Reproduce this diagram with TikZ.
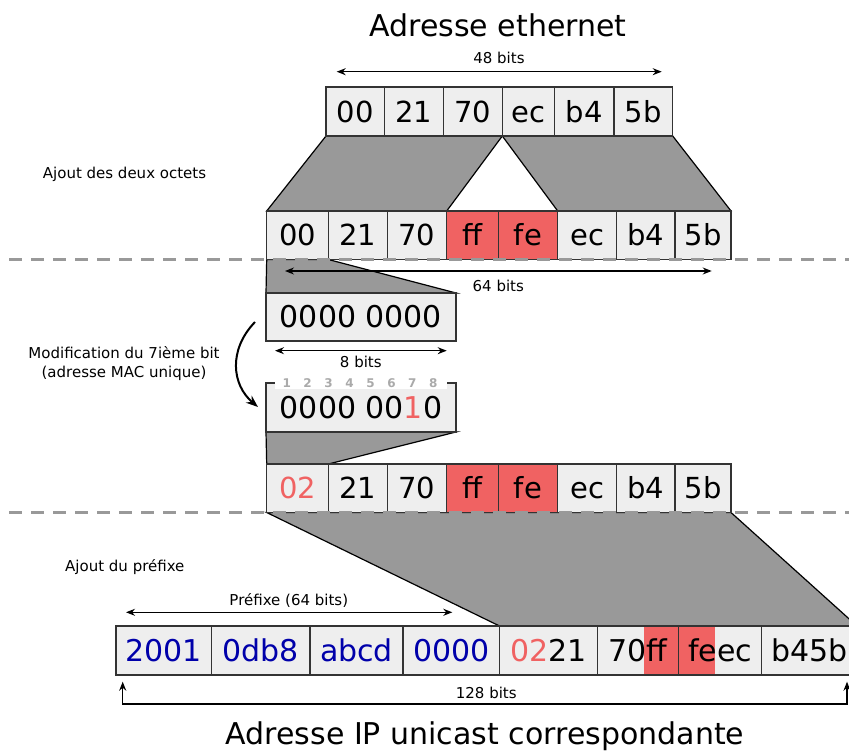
\documentclass[tikz,border=0pt]{standalone}
\usepackage{fontspec}
\setmainfont{DejaVu Sans}
\usetikzlibrary{arrows.meta,backgrounds}
\definecolor{cellgray}{HTML}{EEEEEE}
\definecolor{trapgray}{HTML}{999999}
\definecolor{redfill}{HTML}{F06262}
\definecolor{redtext}{HTML}{F06262}
\definecolor{bluetext}{HTML}{0000AA}
\definecolor{dashgray}{HTML}{999999}
\definecolor{bitgray}{HTML}{AAAAAA}
\definecolor{cellborder}{HTML}{333333}
\tikzset{
  cell/.style={draw=cellborder, fill=cellgray, line width=1.2pt, inner sep=0pt, outer sep=0pt,
    text height=21.2pt, text depth=0pt, font=\fontsize{29}{34}\selectfont},
  redcell/.style={cell, fill=redfill},
  bytecell/.style={cell, text height=21.9pt, font=\fontsize{30}{36}\selectfont},
  ipcell/.style={cell, text height=21.9pt, font=\fontsize{30}{36}\selectfont},
  bluecell/.style={ipcell, text=bluetext},
  trap/.style={fill=trapgray, draw=black, line width=1.2pt, line join=miter},
  dimarrow/.style={{Stealth[length=9pt,width=7pt]}-{Stealth[length=9pt,width=7pt]}, line width=1.3pt},
  curvearrow/.style={-{Stealth[length=12pt,width=9pt]}, line width=2pt},
  lbl/.style={font=\fontsize{15}{18}\selectfont, inner sep=0pt},
  bigtitle/.style={font=\fontsize{30}{36}\selectfont, inner sep=0pt},
  bitnum/.style={font=\fontsize{12}{14}\selectfont\bfseries, text=bitgray, inner sep=0pt},
  sepline/.style={draw=dashgray, line width=3pt, dash pattern=on 13pt off 9pt},
}
\newcommand\mkcell[7]{\node[#1, minimum width={#4-#3}, minimum height={#6-#5}] (#2) at ({(#3+#4)/2},{(#5+#6)/2}) {#7};}
\begin{document}
\begin{tikzpicture}[x=1pt,y=-1pt]
\useasboundingbox (0,0) rectangle (849,751);

% titles
\node[bigtitle, anchor=base] (title1) at (498,36.5) {Adresse ethernet};
\node[bigtitle, anchor=base] (title2) at (485,744.5) {Adresse IP unicast correspondante};

% row 1: ethernet address
\mkcell{cell}{r1a}{326}{384.3}{87}{136}{00}
\mkcell{cell}{r1b}{384.3}{443.5}{87}{136}{21}
\mkcell{cell}{r1c}{443.5}{502.3}{87}{136}{70}
\mkcell{cell}{r1d}{502.3}{554.5}{87}{136}{ec}
\mkcell{cell}{r1e}{554.5}{614}{87}{136}{b4}
\mkcell{cell}{r1f}{614}{672.7}{87}{136}{5b}

% row 2
\mkcell{cell}{r2a}{266.7}{328.3}{211}{259.5}{00}
\mkcell{cell}{r2b}{328.3}{387.3}{211}{259.5}{21}
\mkcell{cell}{r2c}{387.3}{446.7}{211}{259.5}{70}
\mkcell{redcell}{r2d}{446.7}{498.3}{211}{259.5}{ff}
\mkcell{redcell}{r2e}{498.3}{557.7}{211}{259.5}{fe}
\mkcell{cell}{r2f}{557.7}{616.7}{211}{259.5}{ec}
\mkcell{cell}{r2g}{616.7}{675}{211}{259.5}{b4}
\mkcell{cell}{r2h}{675}{731}{211}{259.5}{5b}

% byte boxes
\mkcell{bytecell}{bA}{266}{456}{293}{341}{0000 0000}
\mkcell{bytecell}{bB}{266}{456}{383}{432}{0000 00{\color{redtext}1}0}
\fill[white] (275,377.5) rectangle (447,388.5);
\foreach \i in {1,...,8}{
  \node[bitnum] (n\i) at ({286.7+(\i-1)*20.95},383) {\i};
}

% row 3
\mkcell{cell}{r3a}{266.7}{328.3}{464}{512.5}{{\color{redtext}02}}
\mkcell{cell}{r3b}{328.3}{387.3}{464}{512.5}{21}
\mkcell{cell}{r3c}{387.3}{446.7}{464}{512.5}{70}
\mkcell{redcell}{r3d}{446.7}{498.3}{464}{512.5}{ff}
\mkcell{redcell}{r3e}{498.3}{557.7}{464}{512.5}{fe}
\mkcell{cell}{r3f}{557.7}{616.7}{464}{512.5}{ec}
\mkcell{cell}{r3g}{616.7}{675}{464}{512.5}{b4}
\mkcell{cell}{r3h}{675}{731}{464}{512.5}{5b}

% IPv6 row
\mkcell{bluecell}{ip1}{116}{211.5}{626}{675}{2001}
\mkcell{bluecell}{ip2}{211.5}{310}{626}{675}{0db8}
\mkcell{bluecell}{ip3}{310}{403}{626}{675}{abcd}
\mkcell{bluecell}{ip4}{403}{499.5}{626}{675}{0000}
\mkcell{ipcell}{ip5}{499.5}{597.3}{626}{675}{{\color{redtext}02}21}
\mkcell{ipcell, path picture={\fill[redfill] ([xshift=-34pt]path picture bounding box.south east) rectangle (path picture bounding box.north east);}}{ip6}{597.3}{678.3}{626}{675}{70ff}
\mkcell{ipcell, path picture={\fill[redfill] (path picture bounding box.south west) rectangle ([xshift=36.7pt]path picture bounding box.north west);}}{ip7}{678.3}{761.7}{626}{675}{feec}
\mkcell{ipcell}{ip8}{761.7}{857}{626}{675}{b45b}

% gray trapezoids
\begin{scope}[on background layer]
  \draw[trap] (r1a.south west) -- (r1c.south east) -- (r2c.north east) -- (r2a.north west) -- cycle;
  \draw[trap] (r1d.south west) -- (r1f.south east) -- (r2h.north east) -- (r2f.north west) -- cycle;
  \draw[trap] (r2a.south west) -- (r2a.south east) -- (bA.north east) -- (bA.north west) -- cycle;
  \draw[trap] (bB.south west) -- (bB.south east) -- (r3a.north east) -- (r3a.north west) -- cycle;
  \draw[trap] (r3a.south west) -- (r3h.south east) -- (ip8.north east) -- (ip5.north west) -- cycle;
\end{scope}

% dimension arrows
\coordinate (a48l) at (336.7,71.7); \coordinate (a48r) at (661.7,71.7);
\draw[dimarrow] (a48l) -- (a48r);
\node[lbl, anchor=base] (l48) at (499,63.3) {48 bits};

\coordinate (a64l) at (285,271); \coordinate (a64r) at (711.7,271);
\draw[dimarrow] (a64l) -- (a64r);
\node[lbl, anchor=base] (l64) at (498.3,291.7) {64 bits};

\coordinate (a8l) at (275,350.7); \coordinate (a8r) at (446.7,350.7);
\draw[dimarrow] (a8l) -- (a8r);
\node[lbl, anchor=base] (l8) at (360.8,367.3) {8 bits};

\coordinate (apl) at (126,612.3); \coordinate (apr) at (452.3,612.3);
\draw[dimarrow] (apl) -- (apr);
\node[lbl, anchor=base] (lpref) at (288.8,605) {Préfixe (64 bits)};

\coordinate (a128l) at (122.7,681.7); \coordinate (a128bl) at (122.7,704);
\coordinate (a128br) at (847,704); \coordinate (a128r) at (847,681.7);
\draw[dimarrow] (a128l) -- (a128bl) -- (a128br) -- (a128r);
\node[lbl, anchor=base] (l128) at (486.3,698) {128 bits};

% left labels
\node[lbl, anchor=base west] (ajout1) at (42.7,178.3) {Ajout des deux octets};
\node[lbl, anchor=base] (mod1) at (124,358.3) {Modification du 7ième bit};
\node[lbl, anchor=base] (mod2) at (124,377.7) {(adresse MAC unique)};
\node[lbl, anchor=base west] (ajout2) at (65,571) {Ajout du préfixe};

% curved arrow
\coordinate (cvs) at (255,322); \coordinate (cve) at (258,407);
\draw[curvearrow] (cvs) .. controls (228,350) and (232,385) .. (cve);

% dashed separators
\coordinate (s1l) at (9,259.5); \coordinate (s1r) at (849,259.5);
\coordinate (s2l) at (9,512.5); \coordinate (s2r) at (849,512.5);
\draw[sepline] (s1l) -- (s1r);
\draw[sepline] (s2l) -- (s2r);
\end{tikzpicture}
\end{document}
